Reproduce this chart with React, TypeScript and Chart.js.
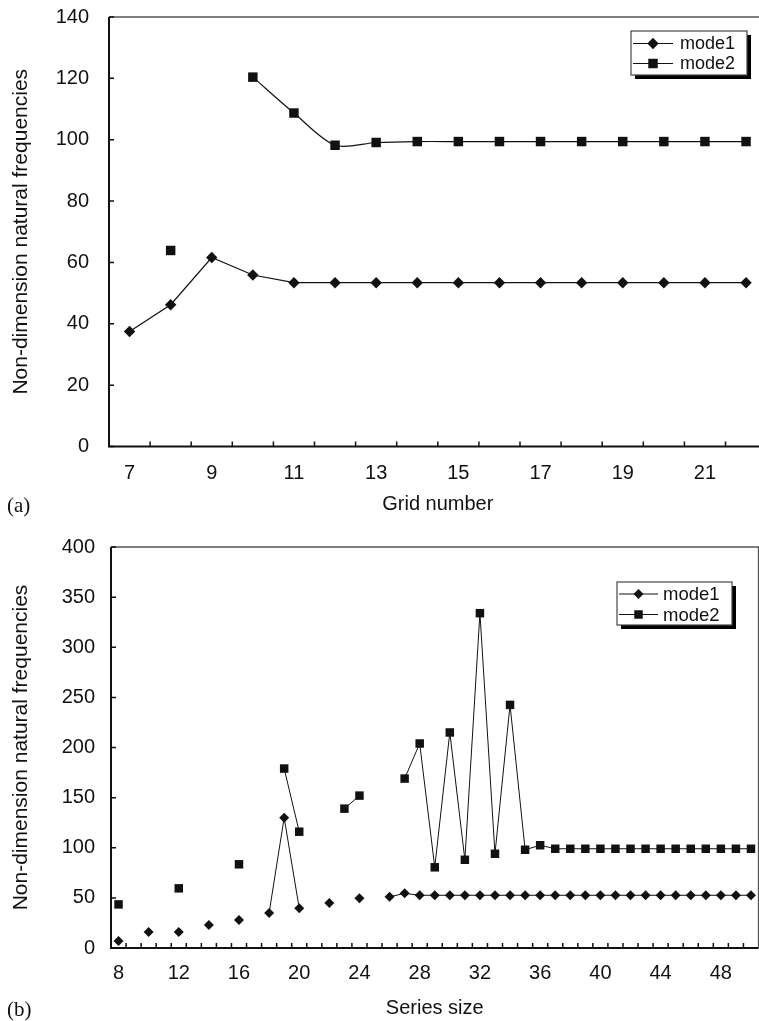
import React, { useEffect, useRef } from 'react';
import { Chart, registerables } from 'chart.js';

Chart.register(...registerables);

// ---------- Data: (a) grid number study ----------
const gridLabels = ['7', '8', '9', '10', '11', '12', '13', '14', '15', '16', '17', '18', '19', '20', '21', '22'];
const gridTickLabels = ['7', '9', '11', '13', '15', '17', '19', '21'];
const gridMode1 = [37.5, 46.2, 61.6, 55.9, 53.4, 53.4, 53.4, 53.4, 53.4, 53.4, 53.4, 53.4, 53.4, 53.4, 53.4, 53.4];
const gridMode2 = [null, 63.9, null, 120.4, 108.7, 98.2, 99.1, 99.4, 99.4, 99.4, 99.4, 99.4, 99.4, 99.4, 99.4, 99.4];

// ---------- Data: (b) series size study ----------
const seriesLabels = [
  '8', '9', '10', '11', '12', '13', '14', '15', '16', '17', '18', '19', '20', '21', '22', '23', '24', '25', '26', '27',
  '28', '29', '30', '31', '32', '33', '34', '35', '36', '37', '38', '39', '40', '41', '42', '43', '44', '45', '46', '47',
  '48', '49', '50',
];
const seriesTickLabels = ['8', '12', '16', '20', '24', '28', '32', '36', '40', '44', '48'];
const seriesMode1 = [
  7, null, 16, null, 16, null, 23, null, 28, null, 35, 130, 39.6, null, 45, null, 49.6, null, 51, 54.5,
  52.6, 52.6, 52.6, 52.6, 52.6, 52.6, 52.6, 52.6, 52.6, 52.6, 52.6, 52.6, 52.6, 52.6, 52.6, 52.6, 52.6, 52.6, 52.6, 52.6,
  52.6, 52.6, 52.6,
];
const seriesMode2 = [
  43.5, null, null, null, 59.5, null, null, null, 83.5, null, null, 179, 116, null, null, 139, 152, null, null, 169,
  204, 80.5, 215, 88, 334, 94, 242.5, 98, 102.5, 99, 99, 99, 99, 99, 99, 99, 99, 99, 99, 99,
  99, 99, 99,
];

const INK = '#111';
const FONT = "'Liberation Sans', Arial, Helvetica, sans-serif";

const framePlugin = {
  id: 'frame',
  beforeDatasetsDraw(chart: any) {
    const { ctx, chartArea, scales } = chart;
    const { left, right, top, bottom } = chartArea;
    const x = scales.x;
    const y = scales.y;
    ctx.save();
    ctx.strokeStyle = '#555';
    ctx.lineWidth = 1.3;
    ctx.beginPath();
    ctx.moveTo(left, top);
    ctx.lineTo(right, top);
    ctx.lineTo(right, bottom);
    ctx.stroke();
    ctx.strokeStyle = INK;
    ctx.lineWidth = 2;
    ctx.beginPath();
    ctx.moveTo(left, top);
    ctx.lineTo(left, bottom);
    ctx.lineTo(right, bottom);
    ctx.stroke();
    ctx.lineWidth = 1.5;
    ctx.beginPath();
    y.ticks.forEach((t: any) => {
      const py = y.getPixelForValue(t.value);
      ctx.moveTo(left, py);
      ctx.lineTo(left + 5, py);
    });
    for (let i = 1; i < x.ticks.length; i++) {
      const px = x.getPixelForValue(i - 0.5);
      ctx.moveTo(px, bottom);
      ctx.lineTo(px, bottom - 5);
    }
    ctx.stroke();
    ctx.restore();
  },
};

function drawMarker(ctx: CanvasRenderingContext2D, style: string, r: number, cx: number, cy: number) {
  ctx.beginPath();
  if (style === 'rectRot') {
    ctx.moveTo(cx - r, cy);
    ctx.lineTo(cx, cy - r);
    ctx.lineTo(cx + r, cy);
    ctx.lineTo(cx, cy + r);
    ctx.closePath();
  } else {
    const s = Math.SQRT1_2 * r;
    ctx.rect(cx - s, cy - s, 2 * s, 2 * s);
  }
  ctx.fill();
}

const boxLegendPlugin = {
  id: 'boxLegend',
  afterDraw(chart: any, _args: any, opts: any) {
    const { ctx } = chart;
    const { x, y, w, h, rows, lineStart, lineEnd, textX, fontSize } = opts;
    ctx.save();
    ctx.fillStyle = '#000';
    ctx.fillRect(x + 4, y + 4, w, h);
    ctx.fillStyle = '#fff';
    ctx.fillRect(x, y, w, h);
    ctx.strokeStyle = '#444';
    ctx.lineWidth = 1.2;
    ctx.strokeRect(x, y, w, h);
    chart.data.datasets.forEach((ds: any, i: number) => {
      const cy = y + rows[i];
      ctx.strokeStyle = INK;
      ctx.lineWidth = 1.2;
      ctx.beginPath();
      ctx.moveTo(x + lineStart, cy);
      ctx.lineTo(x + lineEnd, cy);
      ctx.stroke();
      ctx.fillStyle = INK;
      drawMarker(ctx, ds.pointStyle, ds.pointRadius, x + (lineStart + lineEnd) / 2, cy);
      ctx.font = `${fontSize}px ${FONT}`;
      ctx.textBaseline = 'middle';
      ctx.textAlign = 'left';
      ctx.fillText(ds.label, x + textX, cy + 1);
    });
    ctx.restore();
  },
};

function makeConfig(p: {
  labels: string[];
  tickLabels: string[];
  m1: (number | null)[];
  m2: (number | null)[];
  yMax: number;
  yStep: number;
  xTitle: string;
  tension1: number;
  tension2: number;
  r1: number;
  r2: number;
  lw: number;
  padding: any;
  xHeight: number;
  yWidth: number;
  xTickPad: number;
  yTickPad: number;
  xTitlePad: number;
  legend: any;
}) {
  return {
    type: 'line' as const,
    data: {
      labels: p.labels,
      datasets: [
        {
          label: 'mode1',
          data: p.m1,
          borderColor: INK,
          backgroundColor: INK,
          borderWidth: p.lw,
          pointStyle: 'rectRot',
          pointRadius: p.r1,
          pointBorderWidth: 0,
          pointBackgroundColor: INK,
          tension: p.tension1,
          spanGaps: false,
          clip: false,
        },
        {
          label: 'mode2',
          data: p.m2,
          borderColor: INK,
          backgroundColor: INK,
          borderWidth: p.lw,
          pointStyle: 'rect',
          pointRadius: p.r2,
          pointBorderWidth: 0,
          pointBackgroundColor: INK,
          tension: p.tension2,
          spanGaps: false,
          clip: false,
        },
      ],
    },
    options: {
      animation: false,
      responsive: false,
      events: [],
      layout: { padding: p.padding, autoPadding: false },
      plugins: {
        legend: { display: false },
        tooltip: { enabled: false },
        boxLegend: p.legend,
      },
      scales: {
        x: {
          type: 'category',
          offset: true,
          grid: { display: false, drawTicks: false, offset: true },
          border: { display: false },
          ticks: {
            autoSkip: false,
            maxRotation: 0,
            minRotation: 0,
            padding: p.xTickPad,
            color: INK,
            font: { family: FONT, size: 20 },
            callback: (_v: any, i: number) => (p.tickLabels.includes(p.labels[i]) ? p.labels[i] : ''),
          },
          title: {
            display: true,
            text: p.xTitle,
            color: INK,
            font: { family: FONT, size: 20 },
            padding: { top: 0, bottom: p.xTitlePad },
          },
          afterFit: (s: any) => {
            s.height = p.xHeight;
            s.paddingLeft = 0;
            s.paddingRight = 0;
          },
        },
        y: {
          type: 'linear',
          min: 0,
          max: p.yMax,
          grid: { display: false, drawTicks: false },
          border: { display: false },
          ticks: {
            stepSize: p.yStep,
            padding: p.yTickPad,
            color: INK,
            font: { family: FONT, size: 20 },
          },
          title: {
            display: true,
            text: 'Non-dimension natural frequencies',
            color: INK,
            font: { family: FONT, size: 21 },
            padding: { top: 9, bottom: 0 },
          },
          afterFit: (s: any) => {
            s.width = p.yWidth;
            s.paddingTop = 0;
            s.paddingBottom = 0;
          },
        },
      },
    },
    plugins: [framePlugin, boxLegendPlugin],
  };
}

export default function App() {
  const topRef = useRef<HTMLCanvasElement>(null);
  const botRef = useRef<HTMLCanvasElement>(null);

  useEffect(() => {
    const top = new Chart(
      topRef.current as HTMLCanvasElement,
      makeConfig({
        labels: gridLabels,
        tickLabels: gridTickLabels,
        m1: gridMode1,
        m2: gridMode2,
        yMax: 140,
        yStep: 20,
        xTitle: 'Grid number',
        tension1: 0,
        tension2: 0.3,
        r1: 5.7,
        r2: 6.7,
        lw: 1.2,
        padding: { left: 0, right: 1.4, top: 17, bottom: 0 },
        xHeight: 73.5,
        yWidth: 109,
        xTickPad: 14.5,
        yTickPad: 20,
        xTitlePad: 4,
        legend: { x: 631, y: 31, w: 116, h: 44, rows: [12.5, 32.5], lineStart: 2, lineEnd: 42, textX: 49, fontSize: 18 },
      }) as any
    );
    const bot = new Chart(
      botRef.current as HTMLCanvasElement,
      makeConfig({
        labels: seriesLabels,
        tickLabels: seriesTickLabels,
        m1: seriesMode1,
        m2: seriesMode2,
        yMax: 400,
        yStep: 50,
        xTitle: 'Series size',
        tension1: 0,
        tension2: 0,
        r1: 5,
        r2: 6,
        lw: 1,
        padding: { left: 0, right: 0.5, top: 27, bottom: 0 },
        xHeight: 73,
        yWidth: 111,
        xTickPad: 13.3,
        yTickPad: 16,
        xTitlePad: 1,
        legend: { x: 617, y: 62, w: 115, h: 43, rows: [12, 32.5], lineStart: 2, lineEnd: 41, textX: 46, fontSize: 18.5 },
      }) as any
    );
    return () => {
      top.destroy();
      bot.destroy();
    };
  }, []);

  const serif = "'Liberation Serif', 'Times New Roman', serif";
  return (
    <div style={{ position: 'absolute', left: 0, top: 0, width: 759, height: 1021, overflow: 'hidden', background: '#fff' }}>
      <div style={{ position: 'absolute', left: 0, top: 0, width: 768, height: 520 }}>
        <canvas ref={topRef} width={768} height={520} style={{ width: 768, height: 520, display: 'block' }} />
      </div>
      <div style={{ position: 'absolute', left: 0, top: 520, width: 759, height: 501 }}>
        <canvas ref={botRef} width={759} height={501} style={{ width: 759, height: 501, display: 'block' }} />
      </div>
      <div style={{ position: 'absolute', left: 7, top: 494, fontFamily: serif, fontSize: 21, lineHeight: '22px', color: INK }}>(a)</div>
      <div style={{ position: 'absolute', left: 7, top: 998, fontFamily: serif, fontSize: 21, lineHeight: '22px', color: INK }}>(b)</div>
    </div>
  );
}
